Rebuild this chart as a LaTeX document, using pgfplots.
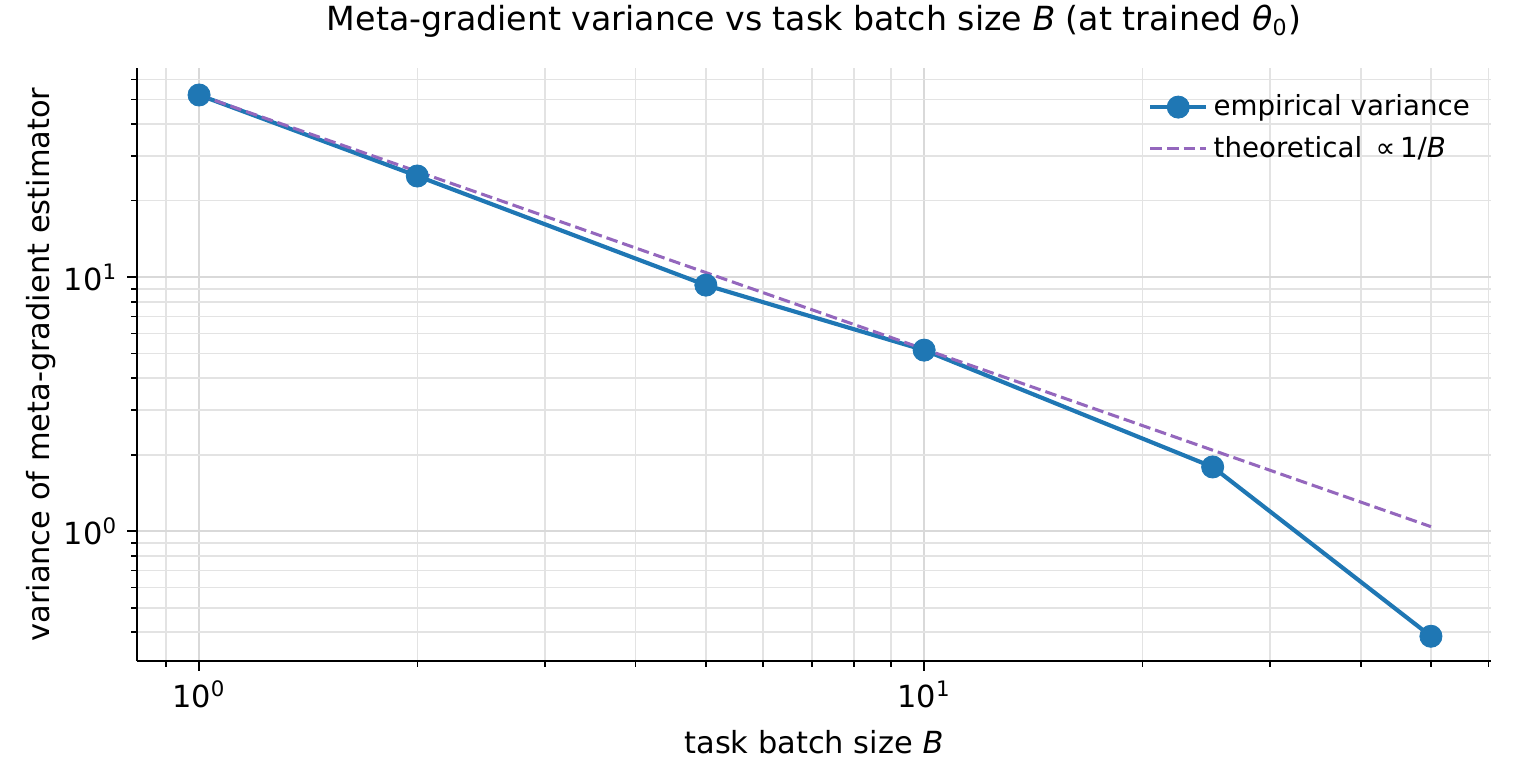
\documentclass[border=0pt]{standalone}
\usepackage{pgfplots}
\pgfplotsset{compat=1.18}
\usepackage{fontspec}
\setmainfont{DejaVu Sans}
\definecolor{tabblue}{HTML}{1F77B4}
\definecolor{tabpurple}{HTML}{9467BD}
\begin{document}
\begin{tikzpicture}
\begin{loglogaxis}[
    scale only axis,
    width=487.4bp, height=213.5bp,
    xmin=0.821, xmax=60.5,
    ymin=0.308, ymax=66.5,
    axis x line*=bottom, axis y line*=left,
    axis line style={line width=0.6pt},
    tick align=outside,
    major tick length=3.5pt, minor tick length=2pt,
    tick style={black, line width=0.6pt},
    grid=both,
    major grid style={gray!30, line width=0.6pt},
    minor grid style={gray!22, line width=0.6pt},
    /pgf/number format/assume math mode=true,
    log base 10 number format code/.code={10\textsuperscript{\pgfmathprintnumber[fixed]{#1}}},
    ticklabel style={font=\fontsize{11}{13}\selectfont},
    title={Meta-gradient variance vs task batch size \textit{B} (at trained \textit{θ}\textsubscript{0})},
    title style={font=\fontsize{12}{14}\selectfont, at={(axis description cs:0.5,1.0506)}, anchor=center},
    xlabel={task batch size \textit{B}},
    ylabel={variance of meta-gradient estimator},
    label style={font=\fontsize{11}{13}\selectfont},
    xlabel style={at={(axis description cs:0.5,-0.137)}, anchor=center},
    ylabel style={at={(axis description cs:-0.071,0.5)}, anchor=center},
    legend style={draw=none, fill=none, at={(0.995,0.975)}, anchor=north east,
        font=\fontsize{10}{12}\selectfont, row sep=2pt},
    legend cell align=left,
    legend image code/.code={
        \draw[mark repeat=2, mark phase=2] plot coordinates {(0bp,0bp) (10bp,0bp) (20bp,0bp)};
    },
]
\addplot[tabblue, line width=1.5pt, mark=*, mark size=4pt,
    mark options={solid, fill=tabblue, draw=tabblue, line width=0.3pt}] coordinates {
    (1,52.1) (2,25.0) (5,9.3) (10,5.16) (25,1.79) (50,0.386)
};
\addlegendentry{empirical variance}
\addplot[tabpurple, line width=1.1pt, dash pattern=on 4.2pt off 1.8pt] coordinates {
    (1,52.1) (2,26.05) (5,10.42) (10,5.21) (25,2.084) (50,1.042)
};
\addlegendentry{theoretical\, ∝\,1/\textit{B}}
\end{loglogaxis}
\pgfresetboundingbox
\path ([shift={(-49.3bp,-42.8bp)}]current axis.south west) rectangle ([shift={(8.3bp,24.5bp)}]current axis.north east);
\end{tikzpicture}
\end{document}
